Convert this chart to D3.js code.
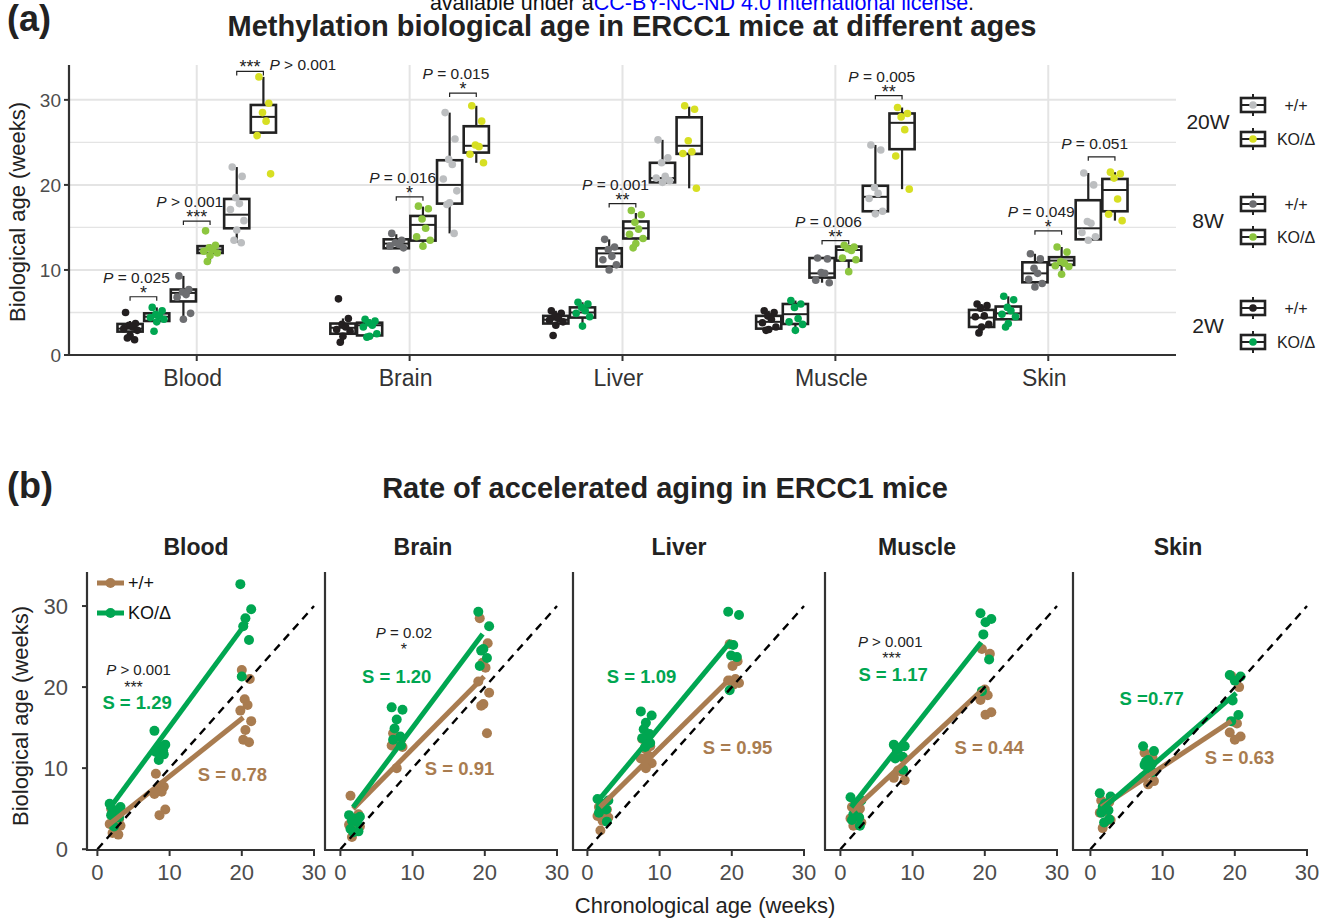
<!DOCTYPE html>
<html>
<head>
<meta charset="utf-8">
<script src="https://cdn.jsdelivr.net/npm/d3@7"></script>
<style>
  body { margin: 0; background: #fff; }
  svg { font-family: "Liberation Sans", Arial, Helvetica, sans-serif; }
</style>
</head>
<body>
<svg id="chart" width="1328" height="924"></svg>
<script>
// ---- data ----
const tissues = ['Blood', 'Brain', 'Liver', 'Muscle', 'Skin'];
const groups = ['2W +/+', '2W KO/Δ', '8W +/+', '8W KO/Δ', '20W +/+', '20W KO/Δ'];
const groupColors = ['#231f20', '#00a651', '#6d6e71', '#8dc63f', '#bcbec0', '#d7df23'];
const ageLabels = ['2W', '8W', '20W'];
const yTicks = [0, 10, 20, 30];
const xTicksB = [0, 10, 20, 30];

// methylation biological age (weeks) of each mouse, one list per group
const bloodPts = [
  [5.0, 3.7, 3.5, 3.3, 3.1, 2.9, 2.3, 2.0, 1.8],
  [5.6, 5.2, 4.8, 4.6, 4.4, 4.2, 3.9, 2.8],
  [9.3, 7.7, 7.4, 7.1, 6.8, 4.9, 4.2],
  [14.6, 12.9, 12.6, 12.4, 12.2, 12.0, 11.7, 11.0],
  [22.1, 21.0, 18.5, 17.8, 17.1, 15.8, 14.7, 13.5, 13.2],
  [32.7, 29.6, 28.5, 27.5, 25.8, 21.3]
];
const brainPts = [
  [6.6, 4.3, 3.6, 3.3, 3.0, 2.8, 2.2, 1.5],
  [4.2, 4.0, 3.8, 3.5, 3.3, 2.5, 2.2, 2.1],
  [14.3, 13.5, 13.2, 13.0, 12.8, 12.6, 10.0],
  [17.5, 17.2, 16.0, 14.9, 13.9, 13.5, 12.8],
  [28.5, 25.4, 23.0, 22.4, 20.7, 19.3, 17.9, 17.7, 14.3],
  [29.3, 27.5, 24.7, 24.5, 23.6, 22.6]
];
const liverPts = [
  [5.2, 4.9, 4.6, 4.3, 4.1, 3.9, 3.5, 2.3],
  [6.2, 6.0, 5.6, 5.2, 4.9, 4.5, 3.4],
  [13.6, 12.7, 12.4, 11.6, 11.2, 10.6, 10.0],
  [17.0, 16.5, 15.6, 14.8, 14.2, 13.7, 13.1, 12.6],
  [25.3, 23.2, 22.6, 21.0, 20.8, 20.5, 20.3],
  [29.3, 28.9, 25.2, 23.9, 23.7, 19.6]
];
const musclePts = [
  [5.2, 5.0, 4.6, 4.2, 3.8, 3.3, 3.0, 2.9],
  [6.4, 6.0, 5.6, 4.3, 3.9, 3.6, 2.9],
  [11.4, 11.3, 9.7, 9.6, 8.8, 8.5],
  [12.9, 12.7, 12.5, 12.3, 11.4, 11.2, 9.8],
  [24.7, 24.1, 19.7, 19.0, 18.4, 16.9, 16.6],
  [29.1, 28.4, 28.0, 26.5, 23.4, 19.5]
];
const skinPts = [
  [6.0, 5.8, 5.5, 4.6, 4.5, 3.6, 3.3, 2.6],
  [6.9, 6.5, 5.6, 5.2, 4.8, 4.5, 3.7, 3.3],
  [11.9, 11.3, 10.2, 9.6, 8.9, 8.4, 8.0],
  [12.7, 12.1, 11.0, 10.8, 10.5, 10.4, 9.5],
  [21.4, 20.0, 15.7, 15.5, 14.4, 13.9, 13.5],
  [21.5, 21.3, 20.8, 18.35, 16.55, 15.8]
];
const tissuePts = [bloodPts, brainPts, liverPts, musclePts, skinPts];

// box stats: [lower whisker, q1, median, q3, upper whisker]
const bloodBox = [
  [1.8, 2.75, 3.1, 3.65, 4.0], [3.9, 4.0, 4.5, 4.9, 5.6], [4.2, 6.3, 7.3, 7.7, 9.3],
  [11.0, 12.0, 12.4, 12.8, 13.0], [13.2, 14.9, 16.5, 18.35, 22.1], [26.0, 26.15, 28.0, 29.4, 32.7]
];
const brainBox = [
  [1.5, 2.5, 3.2, 3.7, 4.3], [2.1, 2.3, 3.5, 3.8, 4.2], [12.5, 12.55, 13.1, 13.6, 14.2],
  [12.8, 13.45, 15.3, 16.35, 17.45], [14.3, 17.8, 20.0, 22.9, 28.5], [22.6, 23.8, 24.6, 26.9, 29.3]
];
const liverBox = [
  [3.5, 3.7, 4.15, 4.6, 5.2], [3.4, 4.4, 5.0, 5.6, 6.2], [10.0, 10.4, 11.95, 12.55, 13.6],
  [12.6, 13.7, 14.9, 15.7, 16.7], [20.3, 20.3, 20.8, 22.6, 25.3], [19.6, 23.65, 24.6, 27.95, 29.2]
];
const muscleBox = [
  [2.9, 3.1, 3.9, 4.6, 5.2], [2.9, 3.65, 4.8, 6.0, 6.4], [8.5, 9.1, 9.6, 11.4, 11.4],
  [9.8, 11.1, 12.35, 12.75, 12.9], [16.6, 16.9, 18.6, 19.9, 24.7], [19.5, 24.2, 27.3, 28.4, 29.1]
];
const skinBox = [
  [2.6, 3.3, 4.4, 5.3, 6.0], [3.3, 4.2, 4.9, 5.7, 6.9], [8.0, 8.55, 9.6, 10.9, 11.9],
  [9.5, 10.6, 11.1, 11.5, 12.7], [13.5, 13.6, 14.9, 18.2, 21.4], [15.8, 16.9, 19.4, 20.7, 21.5]
];
const tissueBox = [bloodBox, brainBox, liverBox, muscleBox, skinBox];

// +/+ vs KO/Δ comparisons within an age (age index, bracket height in weeks)
const bloodSig = [
  { age: 0, y: 6.85, stars: '*', p: '= 0.025' },
  { age: 1, y: 15.75, stars: '***', p: '> 0.001' },
  { age: 2, y: 33.35, stars: '***', p: '> 0.001', inline: true }
];
const brainSig = [
  { age: 1, y: 18.6, stars: '*', p: '= 0.016' },
  { age: 2, y: 30.8, stars: '*', p: '= 0.015' }
];
const liverSig = [{ age: 1, y: 17.8, stars: '**', p: '= 0.001' }];
const muscleSig = [
  { age: 1, y: 13.45, stars: '**', p: '= 0.006' },
  { age: 2, y: 30.5, stars: '**', p: '= 0.005' }
];
const skinSig = [
  { age: 1, y: 14.6, stars: '*', p: '= 0.049' },
  { age: 2, y: 23.3, stars: '', p: '= 0.051' }
];
const tissueSig = [bloodSig, brainSig, liverSig, muscleSig, skinSig];

// panel (b): chronological age centre of each age group per tissue, and jitter offsets
const ageCenters = [[2.4, 8.6, 20.5], [1.9, 7.8, 19.8], [2.1, 8.1, 20.2], [2.1, 8.1, 20.1], [2.0, 8.0, 20.0]];
const jitter = [-0.5, 0.6, -0.1, 0.3, -0.7, 0.8, 0.0, -0.3, 0.5];

// regression fits: [intercept, slope, x from, x to]
const wtFit = [[1.9, 0.71, 1.3, 20.2], [3.4, 0.90, 1.75, 19.9], [3.65, 0.88, 1.75, 20.0], [3.35, 0.83, 1.5, 19.8], [4.3, 0.59, 1.5, 19.5]];
const koFit = [[3.0, 1.21, 1.5, 20.7], [3.1, 1.19, 1.75, 19.7], [4.4, 1.07, 1.75, 19.9], [3.5, 1.13, 1.5, 19.5], [3.7, 0.77, 1.5, 20.2]];
const wtSlope = ['S = 0.78', 'S = 0.91', 'S = 0.95', 'S = 0.44', 'S = 0.63'];
const koSlope = ['S = 1.29', 'S = 1.20', 'S = 1.09', 'S = 1.17', 'S =0.77'];
const slopeP = ['> 0.001', '= 0.02', null, '> 0.001', null];
const slopeStars = ['***', '*', null, '***', null];

const wtColor = '#a97c50';
const koColor = '#00a651';
const ink = '#222';
const axisInk = '#333';
const tickInk = '#4d4d4d';

const svg = d3.select('#chart');

// ---- header & titles ----
const hdr = svg.append('text').attr('x', 702).attr('y', 10)
  .attr('text-anchor', 'middle').style('font-size', '21.5px');
hdr.append('tspan').attr('fill', '#111').text('available under a');
hdr.append('tspan').attr('fill', '#0000ff').text('CC-BY-NC-ND 4.0 International license');
hdr.append('tspan').attr('fill', '#111').text('.');

svg.append('text').attr('x', 7).attr('y', 31).text('(a)')
  .style('font-size', '36px').style('font-weight', 'bold').attr('fill', ink);
svg.append('text').attr('x', 632).attr('y', 36).attr('text-anchor', 'middle')
  .text('Methylation biological age in ERCC1 mice at different ages')
  .style('font-size', '29px').style('font-weight', 'bold').attr('fill', ink);

svg.append('text').attr('x', 7).attr('y', 498).text('(b)')
  .style('font-size', '36px').style('font-weight', 'bold').attr('fill', ink);
svg.append('text').attr('x', 665).attr('y', 498).attr('text-anchor', 'middle')
  .text('Rate of accelerated aging in ERCC1 mice')
  .style('font-size', '29px').style('font-weight', 'bold').attr('fill', ink);

// ---- panel (a) ----
const aLeft = 69, aRight = 1176, aTop = 65, aBottom = 355;
const xA = d3.scalePoint().domain(tissues).range([aLeft, aRight]).padding(0.6);
const xG = d3.scaleBand().domain(d3.range(groups.length)).range([-80, 80]);
const yA = d3.scaleLinear().domain([0, 34.1]).range([aBottom, aTop]);
const boxCenter = (ti, gi) => xA(tissues[ti]) + xG(gi) + xG.bandwidth() / 2;

const gA = svg.append('g');
// grid
d3.range(0, 35, 5).forEach(v => {
  gA.append('line').attr('x1', aLeft).attr('x2', aRight).attr('y1', yA(v)).attr('y2', yA(v))
    .attr('stroke', '#e4e4e4').attr('stroke-width', v % 10 === 0 ? 2 : 1.3);
});
tissues.forEach(t => {
  gA.append('line').attr('x1', xA(t)).attr('x2', xA(t)).attr('y1', aTop).attr('y2', aBottom)
    .attr('stroke', '#e4e4e4').attr('stroke-width', 2);
});

// boxes
tissues.forEach((t, ti) => {
  tissueBox[ti].forEach((b, gi) => {
    const cx = boxCenter(ti, gi);
    const w = xG.bandwidth() - 1.5;
    gA.append('line').attr('x1', cx).attr('x2', cx).attr('y1', yA(b[0])).attr('y2', yA(b[1]))
      .attr('stroke', ink).attr('stroke-width', 2.2);
    gA.append('line').attr('x1', cx).attr('x2', cx).attr('y1', yA(b[3])).attr('y2', yA(b[4]))
      .attr('stroke', ink).attr('stroke-width', 2.2);
    gA.append('rect').attr('x', cx - w / 2).attr('width', w)
      .attr('y', yA(b[3])).attr('height', Math.max(1, yA(b[1]) - yA(b[3])))
      .attr('fill', '#fff').attr('stroke', ink).attr('stroke-width', 2.6);
    gA.append('line').attr('x1', cx - w / 2).attr('x2', cx + w / 2).attr('y1', yA(b[2])).attr('y2', yA(b[2]))
      .attr('stroke', ink).attr('stroke-width', 2);
  });
});

// points
tissues.forEach((t, ti) => {
  tissuePts[ti].forEach((vals, gi) => {
    const cx = boxCenter(ti, gi);
    gA.selectAll(null).data(vals).enter().append('circle')
      .attr('cx', (d, j) => cx + jitter[j % jitter.length] * 9)
      .attr('cy', d => yA(d))
      .attr('r', 3.8)
      .attr('fill', groupColors[gi]);
  });
});

// significance brackets
function pText(sel, p) {
  sel.append('tspan').style('font-style', 'italic').text('P');
  sel.append('tspan').text(' ' + p);
}
tissues.forEach((t, ti) => {
  tissueSig[ti].forEach(s => {
    const x1 = boxCenter(ti, s.age * 2), x2 = boxCenter(ti, s.age * 2 + 1);
    const by = yA(s.y);
    gA.append('path').attr('d', `M${x1},${by + 4}V${by}H${x2}V${by + 4}`)
      .attr('fill', 'none').attr('stroke', ink).attr('stroke-width', 1.2);
    const xm = (x1 + x2) / 2;
    if (s.stars) {
      gA.append('text').attr('x', xm).attr('y', by + 2).attr('text-anchor', 'middle')
        .style('font-size', '18px').attr('fill', ink).text(s.stars);
    }
    let pt;
    if (s.inline) {
      pt = gA.append('text').attr('x', x2 + 6).attr('y', by - 1.5).attr('text-anchor', 'start');
    } else {
      pt = gA.append('text').attr('x', xm - 7).attr('y', by - (s.stars ? 14 : 8)).attr('text-anchor', 'middle');
    }
    pt.style('font-size', '15.5px').attr('fill', ink);
    pText(pt, s.p);
  });
});

// axes
gA.append('line').attr('x1', aLeft).attr('x2', aLeft).attr('y1', aTop).attr('y2', aBottom)
  .attr('stroke', axisInk).attr('stroke-width', 2.2);
gA.append('line').attr('x1', aLeft - 1).attr('x2', aRight).attr('y1', aBottom).attr('y2', aBottom)
  .attr('stroke', axisInk).attr('stroke-width', 2.2);
yTicks.forEach(v => {
  gA.append('line').attr('x1', aLeft - 5).attr('x2', aLeft).attr('y1', yA(v)).attr('y2', yA(v))
    .attr('stroke', axisInk).attr('stroke-width', 2);
  gA.append('text').attr('x', aLeft - 8).attr('y', yA(v)).attr('dy', '0.35em')
    .attr('text-anchor', 'end').style('font-size', '19px').attr('fill', tickInk).text(v);
});
tissues.forEach(t => {
  gA.append('line').attr('x1', xA(t)).attr('x2', xA(t)).attr('y1', aBottom).attr('y2', aBottom + 6)
    .attr('stroke', axisInk).attr('stroke-width', 2);
  gA.append('text').attr('x', xA(t) - 4).attr('y', 386).attr('text-anchor', 'middle')
    .style('font-size', '23px').attr('fill', '#333').text(t);
});
gA.append('text').attr('transform', 'translate(17,212) rotate(-90)').attr('dy', '0.35em')
  .attr('text-anchor', 'middle').style('font-size', '22px').attr('fill', ink)
  .text('Biological age (weeks)');

// legend (a)
const legKeyY = [308, 342, 204, 237, 105, 139];
const legAgeY = [326, 221, 122];
ageLabels.forEach((a, i) => {
  gA.append('text').attr('x', 1208).attr('y', legAgeY[i]).attr('dy', '0.35em')
    .attr('text-anchor', 'middle').style('font-size', '21px').attr('fill', ink).text(a);
});
groups.forEach((g, gi) => {
  const ky = legKeyY[gi], kx = 1241, kw = 24, kc = kx + kw / 2;
  gA.append('line').attr('x1', kc).attr('x2', kc).attr('y1', ky - 11).attr('y2', ky + 11)
    .attr('stroke', ink).attr('stroke-width', 2);
  gA.append('rect').attr('x', kx).attr('y', ky - 7).attr('width', kw).attr('height', 14)
    .attr('fill', '#fff').attr('stroke', ink).attr('stroke-width', 2.6);
  gA.append('line').attr('x1', kx).attr('x2', kx + kw).attr('y1', ky).attr('y2', ky)
    .attr('stroke', ink).attr('stroke-width', 2);
  gA.append('circle').attr('cx', kc).attr('cy', ky).attr('r', 3.8).attr('fill', groupColors[gi]);
  gA.append('text').attr('x', 1296).attr('y', ky).attr('dy', '0.35em').attr('text-anchor', 'middle')
    .style('font-size', '16px').attr('fill', ink).text(gi % 2 === 0 ? '+/+' : 'KO/Δ');
});

// ---- panel (b) ----
const panelLeft = [87, 325, 573, 825, 1073];
const panelRight = [314, 557, 804, 1057, 1307];
const facetTitleX = [196, 423, 679, 917, 1178];
const pxPerWeek = 7.22;
const bTop = 572, bBottom = 850;
const yB = d3.scaleLinear().domain([-0.1, 34.2]).range([bBottom, bTop]);
// label anchors in data units (x, y) for each facet
const labelPos = [
  { ko: [5.5, 18.1], wt: [18.7, 9.2], p: [5.7, 22.1], st: [5.0, 20.4] },
  { ko: [7.8, 21.3], wt: [16.5, 9.9], p: [8.8, 26.7], st: [8.8, 25.05] },
  { ko: [7.5, 21.3], wt: [20.8, 12.5] },
  { ko: [7.3, 21.5], wt: [20.6, 12.6], p: [6.9, 25.6], st: [7.1, 23.9] },
  { ko: [8.5, 18.55], wt: [20.65, 11.3] }
];

tissues.forEach((t, ti) => {
  const L = panelLeft[ti], R = panelRight[ti];
  const xB = d3.scaleLinear().domain([30 - (R - L) / pxPerWeek, 30]).range([L, R]);
  const g = svg.append('g');

  // points: +/+ groups are even indices, KO/Δ odd
  [0, 1].forEach(geno => {
    [0, 1, 2].forEach(ai => {
      const vals = tissuePts[ti][ai * 2 + geno];
      g.selectAll(null).data(vals).enter().append('circle')
        .attr('cx', (d, j) => xB(ageCenters[ti][ai] + jitter[(j + geno * 4) % jitter.length]))
        .attr('cy', d => yB(d))
        .attr('r', 5)
        .attr('fill', geno === 0 ? wtColor : koColor);
    });
  });

  // fitted lines
  [[wtFit[ti], wtColor], [koFit[ti], koColor]].forEach(([f, c]) => {
    g.append('line')
      .attr('x1', xB(f[2])).attr('y1', yB(f[0] + f[1] * f[2]))
      .attr('x2', xB(f[3])).attr('y2', yB(f[0] + f[1] * f[3]))
      .attr('stroke', c).attr('stroke-width', 5);
  });

  // identity line
  g.append('line').attr('x1', xB(0)).attr('y1', yB(0)).attr('x2', xB(30)).attr('y2', yB(30))
    .attr('stroke', '#000').attr('stroke-width', 2.4).attr('stroke-dasharray', '8,6');

  // axes
  g.append('line').attr('x1', L).attr('x2', L).attr('y1', bTop).attr('y2', bBottom)
    .attr('stroke', axisInk).attr('stroke-width', 2.2);
  g.append('line').attr('x1', L - 1).attr('x2', R + 1).attr('y1', bBottom).attr('y2', bBottom)
    .attr('stroke', axisInk).attr('stroke-width', 2.2);
  xTicksB.forEach(v => {
    g.append('line').attr('x1', xB(v)).attr('x2', xB(v)).attr('y1', bBottom).attr('y2', bBottom + 6)
      .attr('stroke', axisInk).attr('stroke-width', 2);
    g.append('text').attr('x', xB(v)).attr('y', 880).attr('text-anchor', 'middle')
      .style('font-size', '22px').attr('fill', tickInk).text(v);
  });
  if (ti === 0) {
    yTicks.forEach(v => {
      g.append('line').attr('x1', L - 5).attr('x2', L).attr('y1', yB(v)).attr('y2', yB(v))
        .attr('stroke', axisInk).attr('stroke-width', 2);
      g.append('text').attr('x', L - 19).attr('y', yB(v)).attr('dy', '0.35em')
        .attr('text-anchor', 'end').style('font-size', '22px').attr('fill', tickInk).text(v);
    });
  }

  // facet title
  g.append('text').attr('x', facetTitleX[ti]).attr('y', 555).attr('text-anchor', 'middle')
    .style('font-size', '23px').style('font-weight', 'bold').attr('fill', ink).text(t);

  // slope labels
  const lp = labelPos[ti];
  g.append('text').attr('x', xB(lp.ko[0])).attr('y', yB(lp.ko[1])).attr('dy', '0.35em')
    .attr('text-anchor', 'middle').style('font-size', '18.5px').style('font-weight', 'bold')
    .attr('fill', koColor).text(koSlope[ti]);
  g.append('text').attr('x', xB(lp.wt[0])).attr('y', yB(lp.wt[1])).attr('dy', '0.35em')
    .attr('text-anchor', 'middle').style('font-size', '18.5px').style('font-weight', 'bold')
    .attr('fill', wtColor).text(wtSlope[ti]);
  if (slopeP[ti]) {
    const pt = g.append('text').attr('x', xB(lp.p[0])).attr('y', yB(lp.p[1])).attr('dy', '0.35em')
      .attr('text-anchor', 'middle').style('font-size', '15px').attr('fill', ink);
    pText(pt, slopeP[ti]);
    g.append('text').attr('x', xB(lp.st[0])).attr('y', yB(lp.st[1]) + 9)
      .attr('text-anchor', 'middle').style('font-size', '16px').attr('fill', ink).text(slopeStars[ti]);
  }
});

// legend (b) inside Blood facet
[['+/+', wtColor, 583], ['KO/Δ', koColor, 613]].forEach(([lab, c, ly]) => {
  svg.append('line').attr('x1', 97).attr('x2', 124).attr('y1', ly).attr('y2', ly)
    .attr('stroke', c).attr('stroke-width', 5);
  svg.append('circle').attr('cx', 110.5).attr('cy', ly).attr('r', 5).attr('fill', c);
  svg.append('text').attr('x', 128).attr('y', ly).attr('dy', '0.35em')
    .style('font-size', '18px').attr('fill', '#111').text(lab);
});

svg.append('text').attr('x', 705).attr('y', 913).attr('text-anchor', 'middle')
  .style('font-size', '22px').attr('fill', ink).text('Chronological age (weeks)');
svg.append('text').attr('transform', 'translate(20,716) rotate(-90)').attr('dy', '0.35em')
  .attr('text-anchor', 'middle').style('font-size', '22px').attr('fill', ink)
  .text('Biological age (weeks)');
</script>
</body>
</html>
